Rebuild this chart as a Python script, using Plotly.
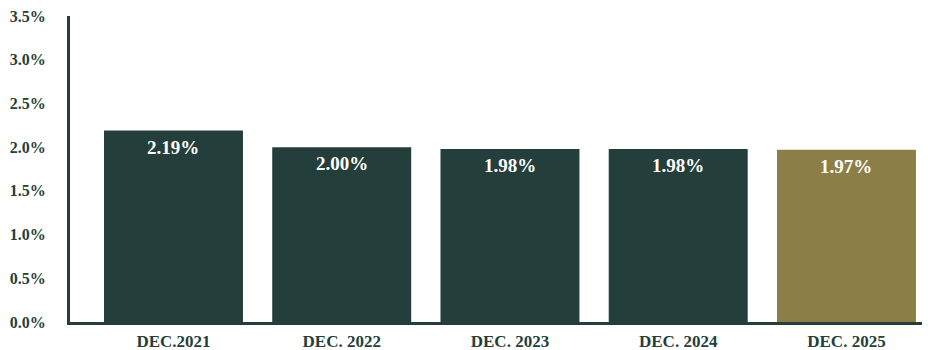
import plotly.graph_objects as go

# Year-end values (percent)
periods = ["DEC.2021", "DEC. 2022", "DEC. 2023", "DEC. 2024", "DEC. 2025"]
rates = [2.19, 2.00, 1.98, 1.98, 1.97]
bar_colors = ["#243f3b", "#243f3b", "#243f3b", "#243f3b", "#8b7f47"]

y_ticks = [0, 0.5, 1.0, 1.5, 2.0, 2.5, 3.0, 3.5]

dark = "#243f3b"
serif = "Liberation Serif"

x_pos = list(range(len(periods)))

fig = go.Figure(
    go.Bar(
        x=x_pos,
        y=rates,
        marker=dict(color=bar_colors, line=dict(width=0)),
        width=0.826,
        hoverinfo="skip",
    )
)

# value labels just inside the top of each bar
for xi, v in zip(x_pos, rates):
    fig.add_annotation(
        x=xi,
        y=v,
        text=f"<b>{v:.2f}%</b>",
        showarrow=False,
        yanchor="top",
        yshift=-4,
        font=dict(family=serif, size=19, color="white"),
    )

fig.update_layout(
    width=928,
    height=350,
    margin=dict(l=70, r=6, t=16, b=28),
    paper_bgcolor="white",
    plot_bgcolor="white",
    showlegend=False,
    font=dict(family=serif, color=dark),
)

fig.update_xaxes(
    range=[-0.615, 4.449],
    tickvals=x_pos,
    ticktext=[f"<b>{p}</b>" for p in periods],
    tickfont=dict(family=serif, size=17, color=dark),
    showgrid=False,
    zeroline=False,
    showline=True,
    linecolor=dark,
    linewidth=3,
    ticks="",
    ticklabelstandoff=2,
    automargin=False,
)

fig.update_yaxes(
    range=[0, 3.5],
    tickvals=y_ticks,
    ticktext=[f"<b>{v:.1f}%</b>" for v in y_ticks],
    tickfont=dict(family=serif, size=16, color=dark),
    showgrid=False,
    zeroline=False,
    showline=True,
    linecolor=dark,
    linewidth=3,
    ticks="",
    ticklabelstandoff=18,
    automargin=False,
)

fig.write_html("out.html")
